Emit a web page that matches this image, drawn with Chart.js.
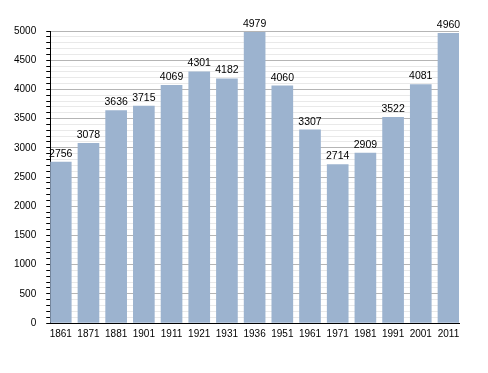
<!DOCTYPE html>
<html>
<head>
<meta charset="utf-8">
<script src="https://cdn.jsdelivr.net/npm/chart.js@4/dist/chart.umd.min.js"></script>
<style>
  html, body { margin: 0; padding: 0; background: #fff; }
  canvas { display: block; }
</style>
</head>
<body>
<canvas id="popChart" width="488" height="373"></canvas>
<script>
// census years and population
const years = ["1861", "1871", "1881", "1901", "1911", "1921", "1931", "1936", "1951", "1961", "1971", "1981", "1991", "2001", "2011"];
const population = [2756, 3078, 3636, 3715, 4069, 4301, 4182, 4979, 4060, 3307, 2714, 2909, 3522, 4081, 4960];
const yMax = 5000;
const yMajorStep = 500;
const yMinorStep = 100;

// value labels on top of the bars
const barLabels = {
  id: "barLabels",
  afterDatasetsDraw(chart) {
    const ctx = chart.ctx;
    const meta = chart.getDatasetMeta(0);
    ctx.save();
    ctx.font = "10.5px 'Liberation Sans', Arial, sans-serif";
    ctx.fillStyle = "#000";
    ctx.textAlign = "center";
    ctx.textBaseline = "bottom";
    meta.data.forEach((bar, i) => {
      ctx.fillText(String(population[i]), bar.x, bar.y - 3);
    });
    ctx.restore();
  }
};

const ctx = document.getElementById("popChart").getContext("2d");
const popChart = new Chart(ctx, {
  type: "bar",
  data: {
    datasets: [{
      data: years.map((_, i) => ({ x: i, y: population[i] })),
      backgroundColor: "#9cb3cf",
      borderWidth: 0,
      barThickness: 21
    }]
  },
  options: {
    responsive: false,
    animation: false,
    layout: { padding: { left: 4, top: 31, right: 29, bottom: 28 } },
    plugins: { legend: { display: false }, tooltip: { enabled: false } },
    scales: {
      x: {
        type: "linear",
        offset: false,
        min: -0.38,
        max: years.length - 1 + 0.38,
        grid: { display: false, drawTicks: false, offset: false },
        border: { color: "#000", width: 1 },
        afterBuildTicks: (scale) => { scale.ticks = years.map((_, i) => ({ value: i })); },
        ticks: {
          autoSkip: false,
          maxRotation: 0,
          padding: 5,
          color: "#000",
          font: { family: "'Liberation Sans', Arial, sans-serif", size: 10 },
          callback: (v) => years[v]
        }
      },
      y: {
        min: 0,
        max: yMax,
        grid: {
          color: (c) => (c.tick && c.tick.value % yMajorStep === 0 ? "#b5b5b5" : "#e9e9e9"),
          tickColor: "#000",
          tickLength: 4
        },
        border: { color: "#000", width: 1 },
        ticks: {
          stepSize: yMinorStep,
          autoSkip: false,
          padding: 10,
          color: "#000",
          font: { family: "'Liberation Sans', Arial, sans-serif", size: 10 },
          callback: (v) => (v % yMajorStep === 0 ? String(v) : "")
        }
      }
    }
  },
  plugins: [barLabels]
});
</script>
</body>
</html>
